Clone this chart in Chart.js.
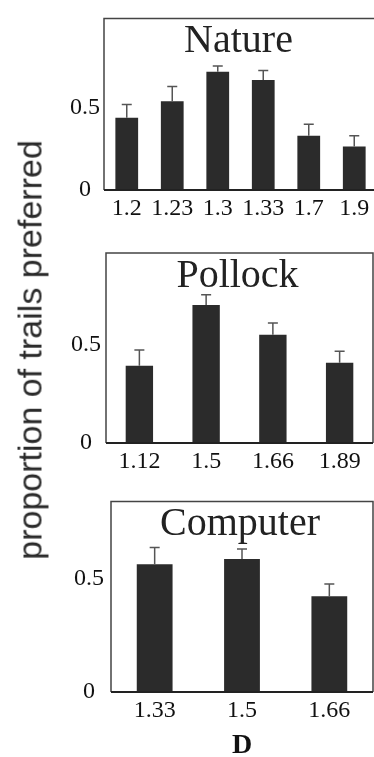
<!DOCTYPE html>
<html>
<head>
<meta charset="utf-8">
<script src="https://cdn.jsdelivr.net/npm/chart.js@4"></script>
<style>
html, body { margin: 0; padding: 0; background: #fff; overflow: hidden; width: 374px; height: 757px; }
canvas { position: absolute; left: 0; }
#ytitle {
    position: absolute; left: 30px; top: 350px;
    transform: translate(-50%, -50%) rotate(-90deg);
    font: 34px "Liberation Sans", Arial, sans-serif; color: #2a2a2a; white-space: nowrap;
}
</style>
</head>
<body>
<canvas id="natureChart" width="378" height="232" style="top:0"></canvas>
<canvas id="pollockChart" width="374" height="248" style="top:232px"></canvas>
<canvas id="computerChart" width="374" height="277" style="top:480px"></canvas>
<div id="ytitle">proportion of trails preferred</div>
<script>
// fractal dimension D of each stimulus set
const natureLabels = ['1.2', '1.23', '1.3', '1.33', '1.7', '1.9'];
const natureMeans = [0.44, 0.54, 0.72, 0.67, 0.33, 0.265];
const natureErrors = [0.08, 0.09, 0.035, 0.058, 0.07, 0.065];

const pollockLabels = ['1.12', '1.5', '1.66', '1.89'];
const pollockMeans = [0.392, 0.70, 0.549, 0.407];
const pollockErrors = [0.079, 0.051, 0.059, 0.058];

const computerLabels = ['1.33', '1.5', '1.66'];
const computerMeans = [0.564, 0.587, 0.423];
const computerErrors = [0.074, 0.044, 0.053];

const yTicks = [0, 0.5];

const serif = '"Liberation Serif", "Times New Roman", serif';

// frame, panel title and upper error bars
const framePlugin = {
    id: 'frame',
    afterDatasetsDraw(chart, args, opts) {
        const ctx = chart.ctx;
        const y = chart.scales.y;
        const meta = chart.getDatasetMeta(0);
        ctx.save();
        ctx.strokeStyle = '#555';
        ctx.lineWidth = 1.5;
        ctx.beginPath();
        meta.data.forEach((bar, i) => {
            const top = y.getPixelForValue(opts.means[i] + opts.errors[i]);
            ctx.moveTo(bar.x, bar.y);
            ctx.lineTo(bar.x, top);
            ctx.moveTo(bar.x - 5, top);
            ctx.lineTo(bar.x + 5, top);
        });
        ctx.stroke();
        ctx.restore();
    },
    afterDraw(chart, args, opts) {
        const ctx = chart.ctx;
        const a = chart.chartArea;
        ctx.save();
        ctx.strokeStyle = '#444';
        ctx.lineWidth = 1.5;
        ctx.beginPath();
        ctx.moveTo(a.left, a.bottom);
        ctx.lineTo(a.left, a.top);
        ctx.lineTo(a.right, a.top);
        ctx.lineTo(a.right, a.bottom);
        ctx.stroke();
        ctx.strokeStyle = '#222';
        ctx.lineWidth = 2;
        ctx.beginPath();
        ctx.moveTo(a.left, a.bottom);
        ctx.lineTo(a.right, a.bottom);
        ctx.stroke();

        ctx.fillStyle = '#222';
        ctx.font = '40px ' + serif;
        ctx.textAlign = 'center';
        ctx.textBaseline = 'alphabetic';
        ctx.fillText(opts.title, (a.left + a.right) / 2 - 2, a.top + 34);
        ctx.restore();
    }
};

function makePanel(id, title, labels, means, errors, p) {
    return new Chart(document.getElementById(id), {
        type: 'bar',
        data: {
            labels: labels,
            datasets: [{
                data: means,
                backgroundColor: '#2b2b2b',
                borderWidth: 0,
                categoryPercentage: 1,
                barPercentage: p.barPct
            }]
        },
        options: {
            responsive: false,
            animation: false,
            devicePixelRatio: 1,
            layout: { padding: { top: p.top, right: p.right, left: 0, bottom: 0 } },
            plugins: {
                legend: { display: false },
                tooltip: { enabled: false },
                frame: { title: title, means: means, errors: errors }
            },
            scales: {
                x: {
                    grid: { display: false, drawTicks: false },
                    border: { display: false },
                    ticks: {
                        color: '#111', font: { family: serif, size: 24 }, padding: p.xPad,
                        maxRotation: 0, minRotation: 0, autoSkip: false
                    },
                    title: p.xTitle ? {
                        display: true, text: 'D', color: '#111',
                        font: { family: serif, size: 28, weight: 'bold', lineHeight: 1 },
                        padding: { top: 0, bottom: -3 }
                    } : { display: false },
                    afterFit: s => { s.height = p.xHeight; }
                },
                y: {
                    min: 0,
                    max: p.yMax,
                    grid: { display: false, drawTicks: false },
                    border: { display: false },
                    afterBuildTicks: s => { s.ticks = yTicks.map(v => ({ value: v })); },
                    ticks: {
                        color: '#111', font: { family: serif, size: 24 },
                        padding: p.yPad, crossAlign: 'center'
                    },
                    afterFit: s => { s.width = p.left; }
                }
            }
        },
        plugins: [framePlugin]
    });
}

makePanel('natureChart', 'Nature', natureLabels, natureMeans, natureErrors,
    { top: 15, right: 1, left: 104, xHeight: 42, yMax: 1.045, yPad: 4, xPad: 4, barPct: 0.5 });
makePanel('pollockChart', 'Pollock', pollockLabels, pollockMeans, pollockErrors,
    { top: 21, right: 1, left: 106, xHeight: 37, yMax: 0.963, yPad: 5, xPad: 4, barPct: 0.41 });
makePanel('computerChart', 'Computer', computerLabels, computerMeans, computerErrors,
    { top: 15, right: 1, left: 111, xHeight: 65, yMax: 0.841, yPad: 7, xPad: 4, barPct: 0.41, xTitle: true });
</script>
</body>
</html>
